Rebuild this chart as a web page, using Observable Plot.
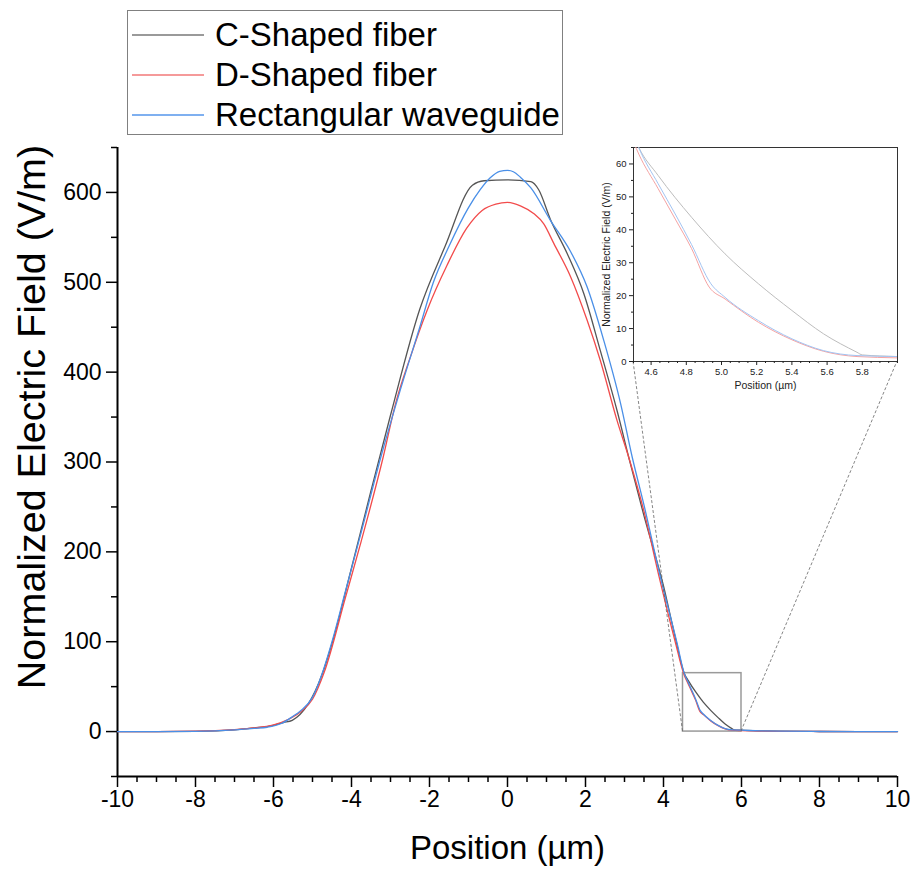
<!DOCTYPE html>
<html><head><meta charset="utf-8">
<script src="https://cdn.jsdelivr.net/npm/d3@7"></script>
<script src="https://cdn.jsdelivr.net/npm/@observablehq/plot@0.6"></script>
<style>
body{margin:0;background:#fff;font-family:"Liberation Sans",Arial,sans-serif}
#wrap{position:relative;width:913px;height:875px;overflow:hidden}
#wrap svg{position:absolute}
#legend{position:absolute;left:127px;top:10px;width:434px;height:123px;border:1px solid #808080;background:#fff;font-size:33px;color:#000}
#legend .row{position:absolute;left:0;height:40px;display:flex;align-items:center}
#legend .ln{width:72px;height:1.4px;margin-left:4px;margin-right:11px}
</style></head><body>
<div id="wrap"><div id="legend"></div></div>
<script>
// ---- data ----
const seriesNames = ["C-Shaped fiber", "D-Shaped fiber", "Rectangular waveguide"];
const xC = [-10,-9,-8,-7,-6.5,-6,-5.75,-5.52,-4.75,-4.5,-4,-3.5,-3,-2.25,-1.6,-0.9,-0.6,0,0.6,0.8,1.1,1.53,1.96,2.38,2.81,3.11,3.5,4,4.3,4.53,4.64,4.83,5.02,5.21,5.4,5.58,5.77,5.8,6,6.5,7,8,9,10];
const yC = [0,0,0.3,2,4,7,10,12.5,64,98,182,268,352,470,540,608,613,614,612,603,570,532,487,424,357,305,240,162,105,65,56.5,43.8,32.7,23.6,15.5,8.4,2.8,2.0,1.5,0.8,0.4,0.1,0,0];
const xD = [-10,-9,-8,-7,-6.5,-6,-5.6,-5.3,-5,-4.7,-4.15,-3.75,-3.19,-2.87,-2.49,-2.06,-1.55,-1.05,-0.65,-0.3,0,0.33,0.67,0.93,1.19,1.62,2.04,2.38,2.81,3.11,3.5,3.9,4.3,4.53,4.64,4.74,4.83,4.93,5.02,5.21,5.4,5.58,5.77,6,6.5,7,8,9,10];
const yD = [0,0.05,0.4,2.2,4,7.5,14,22,36,66,150,212,305,365,417,469,519,560,580,587,589,585,576.5,565,543,506,458,413,346,305,245,170,100,63,52.5,43,34.3,22.6,19,11.9,6.6,3.1,1.5,1.1,0.6,0.3,0.1,0,0];
const xB = [-10,-9,-8,-7,-6.5,-6.16,-5.8,-5.5,-5.31,-5,-4.71,-4.5,-4.15,-3.75,-3.25,-2.75,-2.25,-1.9,-1.5,-1.0,-0.7,-0.45,-0.2,0,0.15,0.33,0.6,1.1,1.62,2.04,2.47,2.9,3.2,3.5,3.92,4.35,4.53,4.64,4.74,4.83,4.94,5.02,5.21,5.4,5.58,5.77,6,6.5,7,8,9,10];
const yB = [0,0.05,0.3,1.9,3.5,4.8,9,17,23,38,70,100,157,222,305,380,450,500,540,583,603,616,623.5,624.5,623,617,605,569,534,495,435,365,305,252,172,98,65,54,44.5,35.5,23.6,19.5,12.4,6.9,3.3,1.8,1.5,0.8,0.4,0.1,0,0];
const mainColors = ["#555555", "#f24b4b", "#4a8fe7"];
const legendColors = ["#9a9a9a", "#f59a9a", "#7fb0f0"];
const insetColors = ["#bdbdbd", "#f5a3a3", "#a3c4f2"];
const xMajor = [-10,-8,-6,-4,-2,0,2,4,6,8,10];
const yMajor = [0,100,200,300,400,500,600];
const insetX = [4.5, 6.0];
const insetY = [0, 65];
const insetXMajor = [4.6,4.8,5.0,5.2,5.4,5.6,5.8];
const insetYMajor = [0,10,20,30,40,50,60];

// ---- build ----
const xs = [xC, xD, xB], ys = [yC, yD, yB];
const series = seriesNames.map((name, k) => xs[k].map((x, i) => ({series: name, x, y: ys[k][i]})));
const xMinor = d3.range(-20, 21).map(d => d / 2).filter(d => !xMajor.includes(d));
const yMinor = d3.range(-50, 651, 100);
const font = '"Liberation Sans", Arial, sans-serif';

const main = Plot.plot({
  width: 913, height: 875,
  marginLeft: 117, marginRight: 16, marginTop: 147, marginBottom: 99,
  x: {domain: [-10, 10]},
  y: {domain: [-50, 650]},
  style: {fontFamily: font, fontSize: "23px", color: "#000", background: "transparent", overflow: "visible"},
  marks: [
    Plot.axisX({ticks: xMinor, tickSize: 6, tickFormat: () => "", label: null, strokeWidth: 1.5}),
    Plot.axisX({ticks: xMajor, tickSize: 11, tickPadding: 3, tickFormat: d => String(d), label: null, strokeWidth: 1.5, fontSize: 23}),
    Plot.axisY({ticks: yMinor, tickSize: 6, tickFormat: () => "", label: null, strokeWidth: 1.5}),
    Plot.axisY({ticks: yMajor, tickSize: 11, tickPadding: 5, tickFormat: d => String(d), label: null, strokeWidth: 1.5, fontSize: 23}),
    Plot.ruleX([-10], {stroke: "#000", strokeWidth: 2}),
    Plot.ruleY([-50], {stroke: "#000", strokeWidth: 2}),
    Plot.text(["Position (µm)"], {frameAnchor: "bottom", dy: 82, fontSize: 33, fill: "#000"}),
    Plot.text(["Normalized Electric Field (V/m)"], {frameAnchor: "left", textAnchor: "middle", rotate: -90, dx: -85, dy: -45, fontSize: 39.5, fill: "#000"}),
    Plot.rect([0], {x1: () => insetX[0], x2: () => insetX[1], y1: () => insetY[0], y2: () => insetY[1], fill: "none", stroke: "#9a9a9a", strokeWidth: 1.5}),
    ...series.map((s, k) => Plot.line(s, {x: "x", y: "y", stroke: mainColors[k], strokeWidth: 1.3, curve: "monotone-x"}))
  ]
});
main.style.left = "0px"; main.style.top = "0px";

const insetLeft = 590, insetTop = 140;
const insetXMinor = d3.range(90, 121).map(d => d / 20).filter(d => !insetXMajor.some(m => Math.abs(m - d) < 1e-9));
const insetYMinor = d3.range(5, 66, 10);
const inset = Plot.plot({
  width: 320, height: 270,
  marginLeft: 43, marginRight: 13, marginTop: 7, marginBottom: 49,
  x: {domain: insetX},
  y: {domain: insetY},
  style: {fontFamily: font, fontSize: "9.5px", color: "#222", background: "transparent", overflow: "visible"},
  marks: [
    Plot.frame({stroke: "#333", strokeWidth: 1}),
    Plot.axisX({ticks: insetXMinor, tickSize: 2, tickFormat: () => "", label: null}),
    Plot.axisX({ticks: insetXMajor, tickSize: 4, tickPadding: 3, tickFormat: d => d.toFixed(1), label: null}),
    Plot.axisY({ticks: insetYMinor, tickSize: 2, tickFormat: () => "", label: null}),
    Plot.axisY({ticks: insetYMajor, tickSize: 4, tickPadding: 3, tickFormat: d => String(d), label: null}),
    Plot.text(["Position (µm)"], {frameAnchor: "bottom", dy: 27, fontSize: 10.5, fill: "#222"}),
    Plot.text(["Normalized Electric Field (V/m)"], {frameAnchor: "left", textAnchor: "middle", rotate: -90, dx: -27, fontSize: 10.5, fill: "#222"}),
    ...series.map((s, k) => Plot.line(s.filter(d => d.x >= 4.3 && d.x <= 6.5), {x: "x", y: "y", stroke: insetColors[k], strokeWidth: 1, curve: "monotone-x", clip: true}))
  ]
});
inset.style.left = insetLeft + "px"; inset.style.top = insetTop + "px";

const wrap = document.getElementById("wrap");
wrap.appendChild(main);
wrap.appendChild(inset);

// connector lines from zoom rectangle to inset frame
const mx = main.scale("x"), my = main.scale("y"), ix = inset.scale("x"), iy = inset.scale("y");
const conn = [
  [mx.apply(insetX[0]), my.apply(insetY[0]), insetLeft + ix.apply(insetX[0]), insetTop + iy.apply(insetY[0])],
  [mx.apply(insetX[1]), my.apply(insetY[0]), insetLeft + ix.apply(insetX[1]), insetTop + iy.apply(insetY[0])]
];
const g = d3.select(main).append("g");
conn.forEach(c => g.append("line").attr("x1", c[0]).attr("y1", c[1]).attr("x2", c[2]).attr("y2", c[3])
  .attr("stroke", "#666").attr("stroke-width", 0.8).attr("stroke-dasharray", "3,2"));

// legend
const legend = document.getElementById("legend");
seriesNames.forEach((n, k) => {
  const row = document.createElement("div");
  row.className = "row";
  row.style.top = (4 + k * 40) + "px";
  const ln = document.createElement("div");
  ln.className = "ln";
  ln.style.background = legendColors[k];
  const tx = document.createElement("span");
  tx.textContent = n;
  row.appendChild(ln); row.appendChild(tx);
  legend.appendChild(row);
});
</script>
</body></html>
